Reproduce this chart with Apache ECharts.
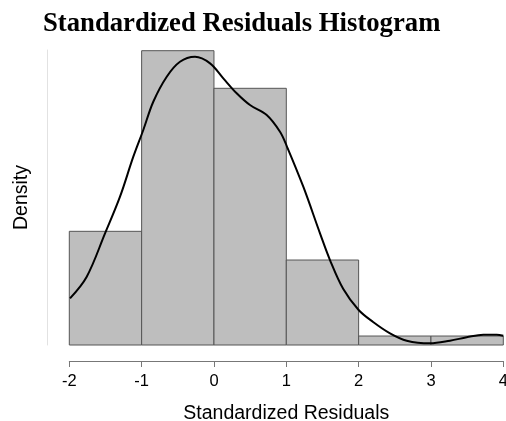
<!DOCTYPE html>
<html>
<head>
<meta charset="utf-8">
<script src="https://cdn.jsdelivr.net/npm/echarts@6/dist/echarts.min.js"></script>
<style>html,body{margin:0;padding:0;background:#fff}#c{width:506px;height:421px}</style>
</head>
<body>
<div id="c"></div>
<script>
const binStarts = [-2, -1, 0, 1, 2, 3];
const binEnds = [-1, 0, 1, 2, 3, 4];
const binDensity = [0.1481, 0.3834, 0.3344, 0.1107, 0.0117, 0.0117];
const curveX = [-1.99, -1.759, -1.506, -1.299, -1.115, -0.977, -0.839, -0.653, -0.47, -0.262, -0.054, 0.129, 0.314, 0.498, 0.729, 0.913, 1.006, 1.235, 1.466, 1.604, 1.788, 2.0, 2.2, 2.434, 2.665, 2.987, 3.263, 3.494, 3.724, 3.909, 4.0];
const curveY = [0.0608, 0.089, 0.1454, 0.1932, 0.2453, 0.2801, 0.3169, 0.3495, 0.369, 0.3755, 0.3669, 0.3474, 0.3279, 0.3126, 0.2996, 0.2778, 0.2592, 0.2062, 0.1455, 0.1107, 0.0729, 0.0456, 0.030, 0.0152, 0.0056, 0.0022, 0.0056, 0.010, 0.0134, 0.0134, 0.0121];
const xTicks = [-2, -1, 0, 1, 2, 3, 4];

const chart = echarts.init(document.getElementById('c'), null, {renderer: 'canvas'});
const bars = binStarts.map((s, i) => [s, binEnds[i], binDensity[i]]);
const curve = curveX.map((x, i) => [x, curveY[i]]);

chart.setOption({
  animation: false,
  title: {
    text: 'Standardized Residuals Histogram',
    left: 43, top: 11, padding: 0,
    textStyle: {fontFamily: 'Liberation Serif', fontWeight: 'bold', fontSize: 26.7, color: '#000'}
  },
  grid: {left: 69.3, right: 2.7, top: 50, bottom: 76, containLabel: false, outerBoundsMode: 'none'},
  xAxis: {
    type: 'value', min: xTicks[0], max: xTicks[xTicks.length - 1], interval: 1,
    offset: 16,
    axisLine: {show: true, onZero: false, lineStyle: {color: '#777', width: 1}},
    axisTick: {show: true, length: 6, lineStyle: {color: '#777'}},
    axisLabel: {fontSize: 16.5, color: '#000', fontFamily: 'Liberation Sans', margin: 12, hideOverlap: false, showMinLabel: true, showMaxLabel: true},
    splitLine: {show: false},
    name: 'Standardized Residuals', nameLocation: 'middle', nameGap: 43,
    nameTextStyle: {fontSize: 19.5, color: '#000', fontFamily: 'Liberation Sans'}
  },
  yAxis: {
    type: 'value', min: 0, max: 0.3843,
    offset: 22,
    axisLine: {show: true, onZero: false, lineStyle: {color: '#e2e2e2', width: 1}},
    axisTick: {show: false}, axisLabel: {show: false}, splitLine: {show: false},
    name: 'Density', nameLocation: 'middle', nameGap: 16, nameRotate: 90,
    nameTextStyle: {fontSize: 19.5, color: '#000', fontFamily: 'Liberation Sans'}
  },
  series: [
    {
      type: 'custom',
      data: bars,
      encode: {x: [0, 1], y: 2},
      renderItem: function (params, api) {
        const p0 = api.coord([api.value(0), api.value(2)]);
        const p1 = api.coord([api.value(1), 0]);
        return {
          type: 'rect',
          shape: {x: p0[0], y: p0[1], width: p1[0] - p0[0], height: p1[1] - p0[1]},
          style: {fill: '#bebebe', stroke: '#555', lineWidth: 1}
        };
      },
      z: 1
    },
    {
      type: 'line', data: curve, smooth: 0.35, showSymbol: false, symbol: 'none',
      lineStyle: {color: '#000', width: 2}, z: 3
    }
  ]
});
</script>
</body>
</html>
